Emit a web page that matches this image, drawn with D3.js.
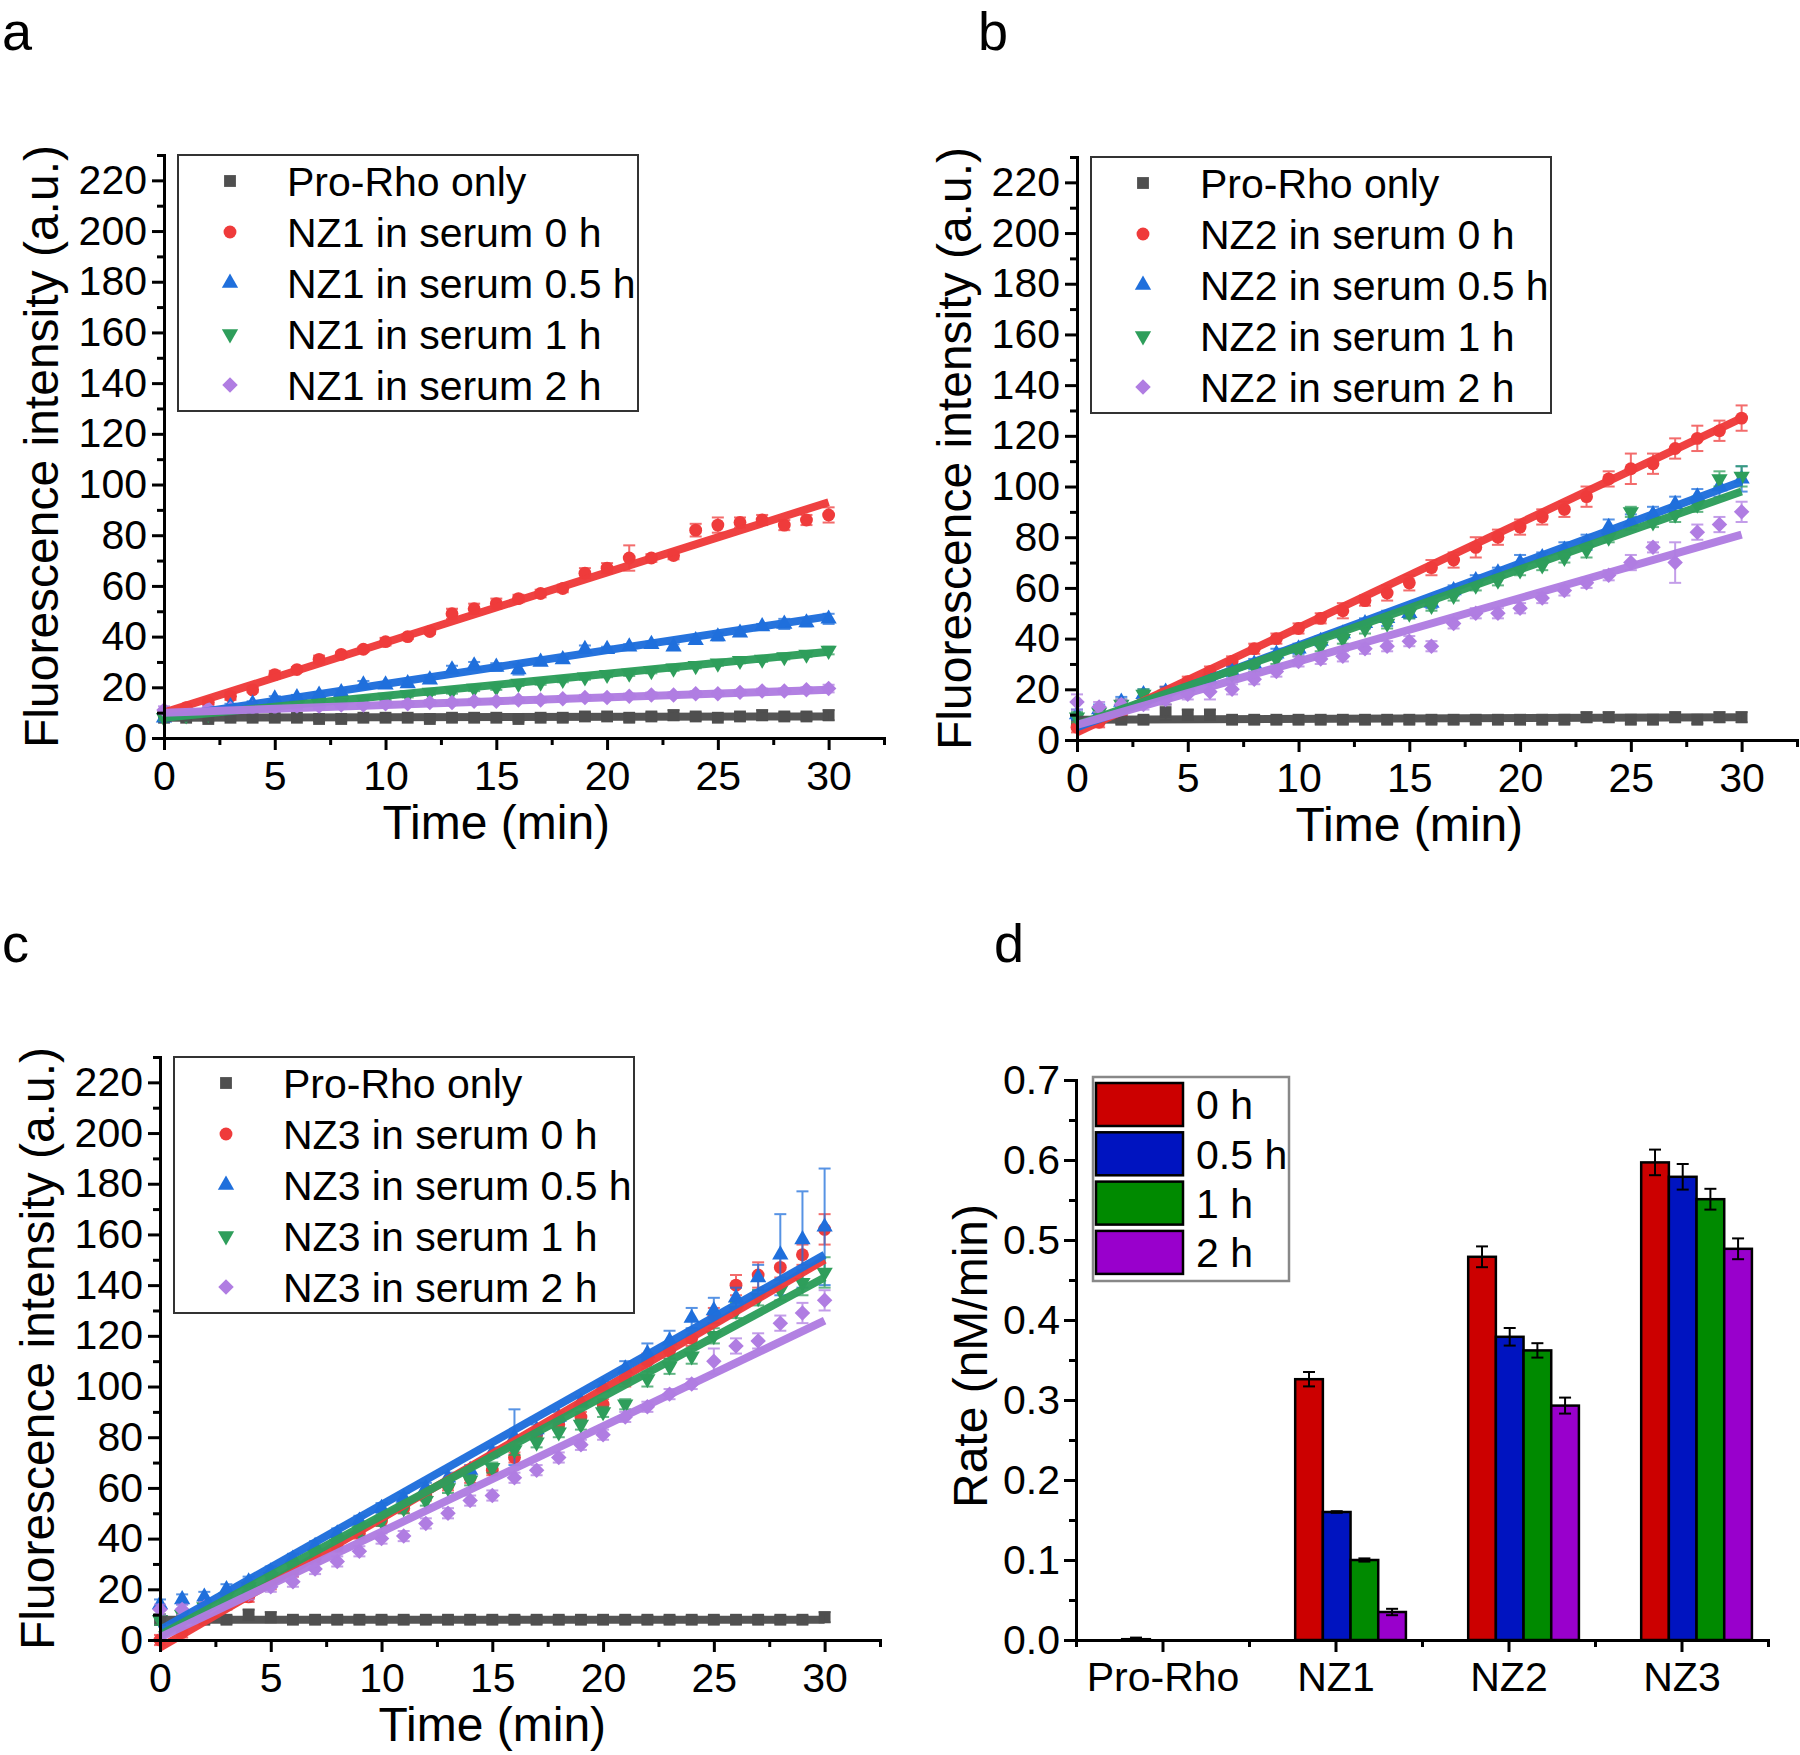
<!DOCTYPE html>
<html><head><meta charset="utf-8">
<script src="https://cdn.jsdelivr.net/npm/d3@7"></script>
<style>
body{margin:0;background:#fff}
svg{display:block}
text{font-family:"Liberation Sans",Arial,Helvetica,sans-serif;fill:#000}
</style>
</head><body>
<svg id="chart" width="1800" height="1755"></svg>
<script>
// ---------------- DATA ----------------
const time = [0,1,2,3,4,5,6,7,8,9,10,11,12,13,14,15,16,17,18,19,20,21,22,23,24,25,26,27,28,29,30];
const xTicks = [0,5,10,15,20,25,30];
const xMinorTicks = [2.5,7.5,12.5,17.5,22.5,27.5,32.5];
const yTicks = [0,20,40,60,80,100,120,140,160,180,200,220];
const yMinorTicks = [10,30,50,70,90,110,130,150,170,190,210,230];

const legendA = ["Pro-Rho only","NZ1 in serum 0 h","NZ1 in serum 0.5 h","NZ1 in serum 1 h","NZ1 in serum 2 h"];
const legendB = ["Pro-Rho only","NZ2 in serum 0 h","NZ2 in serum 0.5 h","NZ2 in serum 1 h","NZ2 in serum 2 h"];
const legendC = ["Pro-Rho only","NZ3 in serum 0 h","NZ3 in serum 0.5 h","NZ3 in serum 1 h","NZ3 in serum 2 h"];

// Panel a (NZ1)
const grayA   = [8,8,7.5,8,8,8,8,7.5,7.5,8,8,8,7.5,8,8,8,7.5,8,8,8.5,8.5,8,8.5,9,8.5,8,8.5,9,8.5,8.5,9];
const redA    = [10,12,14,16.5,19,25,27,31,33,35,38,40,42,49,51,53,55,57,59,65,67,71,71,72,82,84,85,86,84,86,88];
const blueA   = [8,9.5,11,12.5,13.5,15.5,16,17,18,21,21,21.5,23,27,28.5,28,27,30,31,35,35,36,37,36,38.5,40,41.5,44,45,45.5,47];
const greenA  = [8,9,9.5,10.5,11.5,12,13,13.5,14,15,16,17,18,18.5,19.5,20,21.5,22,23,24,25,25.5,26.5,27.5,28.5,29.5,30.5,31,32,33,34.5];
const purpleA = [11,11,11.5,11.5,12,12,12.5,12.5,13,13,13.5,13.5,14,14,14.5,14.5,15,15,15.5,16,16,16.5,17,17,17.5,17.5,18,18.5,18.5,19,19.5];
const errGrayA   = [1,1,1,1,1,1,1,1,1,1,1,1,1,1,1,1,1,1,1.5,1.5,1,1.5,1.5,2,1.5,1,1.5,2,1.5,1.5,2];
const errRedA    = [1,1,1,1.5,1,1.5,1,1.5,1,1,1.5,1,1,2,2,2,1.5,1.5,1.5,2,2,5,1.5,1.5,2.5,3,2,2,2,2,3];
const errBlueA   = [1,1,1,1,1,1,1,1,1,1.5,1,1,1,1.5,1.5,1.5,2,1,1,1.5,1,1,1,1,1,1.5,1,1,2,1.5,2];
const errGreenA  = [1,1,1,1,1,1,1,1,1,1,1,1,1,1,1,1,1,1,1,1,1,1,1,1,1,1,1,1,1,1,1.5];
const errPurpleA = [1.5,1,1,1,1,1,1,1,1,1,1,1,1,1,1,1,1,1,1,1,1,1,1,1,1,1,1,1,1,1,1.5];
const fitStartA = [8, 10, 8, 8, 10];   // fitted value at t = 0
const fitEndA   = [8.5, 93, 48, 34, 19]; // fitted value at t = 30

// Panel b (NZ2)
const grayB   = [8,9,8,8,11,10,10,8,8,8,8,8,8,8,8,8,8,8,8,8,8,8,8,9,9,8,8,9,8,9,9];
const redB    = [5,7,10,15,19,23,27,31,36,40,44,48,51,55,58,62,68,71,76,80,84,88,91,96,103,107,109,115,119,122,127];
const blueB   = [10,12,15,18,19,21,24,27,30,34,36,39,42,46,48,50,54,59,63,66,70,72,75,78,84,86,89,93,96,100,103];
const greenB  = [9,11,14,18,18,21,24,26,29,32,35,37,40,44,46,50,53,57,61,63,67,69,72,75,80,90,86,89,93,103,104];
const purpleB = [15,13,14,14,16,18,19,20,24,27,31,32,33,36,37,39,37,46,50,50,52,56,59,62,65,70,76,70,82,85,90];
const errGrayB   = [2,2,1.5,1.5,3,2,2,1.5,1.5,1.5,1.5,1.5,1.5,1.5,1.5,1.5,1.5,1.5,1.5,1.5,1.5,1.5,1.5,2,2,1.5,1.5,2,1.5,2,2];
const errRedB    = [2,2,2,2,2,2,2,2,2,2,2,2,3,2,3,3,3,3,4,3,3,3,3,4,3,6,4,4,5,4,5];
const errBlueB   = [2,2,2,2,2,2,2,2,2,2,2,2,2,2,3,2,2,2,2,2,3,2,3,3,3,3,3,3,3,4,5];
const errGreenB  = [2,2,2,2,2,2,2,2,2,2,2,2,2,2,2,2,2,2,2,2,2,2,2,3,2,2,2,3,3,3,4];
const errPurpleB = [3,2,2,2,2,2,3,2,2,2,2,2,2,2,2,2,2,2,2,2,2,2,2,2,2,3,2,8,3,3,4];
const fitStartB = [8, 3, 5, 6, 6];
const fitEndB   = [9, 127, 102, 98, 81];

// Panel c (NZ3)
const grayC   = [8,10,8,8,10,9,8,8,8,8,8,8,8,8,8,8,8,8,8,8,8,8,8,8,8,8,8,8,8,8,9];
const redC    = [0,3,9,14,17,22,27,32,37,42,47,52,57,61,64,67,72,81,85,88,93,103,110,114,119,128,140,144,147,152,162];
const blueC   = [14,16,17,20,23,27,32,37,42,47,52,56,60,64,67,74,80,83,88,94,100,107,113,118,127,130,135,143,152,158,163];
const greenC  = [8,10,13,17,21,25,29,34,38,43,47,52,55,60,63,68,75,78,82,85,90,93,103,108,112,120,130,135,138,141,145];
const purpleC = [12,12,13,15,18,21,23,28,31,35,40,41,46,50,55,57,64,67,72,77,81,88,92,97,101,110,116,118,125,129,134];
const errGrayC   = [2,2,1.5,1.5,2,2,1.5,1.5,1.5,1.5,1.5,1.5,1.5,1.5,1.5,1.5,1.5,1.5,1.5,1.5,1.5,1.5,1.5,1.5,1.5,1.5,1.5,1.5,1.5,1.5,2];
const errRedC    = [2,2,2,2,2,2,2,2,2,2,2,2,2,2,2,2,2,2,2,2,2,3,3,3,3,3,4,5,4,4,6];
const errBlueC   = [2,2,2,2,2,2,2,2,2,2,2,2,2,2,2,2,11,2,2,2,2,3,4,4,4,5,4,5,16,19,23];
const errGreenC  = [2,2,2,2,2,2,2,2,2,2,2,2,2,2,2,2,2,2,2,2,2,2,3,3,3,3,3,3,4,5,6];
const errPurpleC = [2,2,2,2,2,2,2,2,2,2,2,2,2,2,2,2,2,2,2,2,2,2,2,2,2,5,3,3,3,4,4];
const fitStartC = [8, -3, 4, 2, 1];
const fitEndC   = [8, 150, 152, 143, 126];

// Panel d (rates)
const barCategories = ["Pro-Rho","NZ1","NZ2","NZ3"];
const barSeries = ["0 h","0.5 h","1 h","2 h"];
const rate0h  = [0.001, 0.326, 0.479, 0.597];
const rate05h = [null, 0.160, 0.379, 0.579];
const rate1h  = [null, 0.100, 0.362, 0.551];
const rate2h  = [null, 0.035, 0.293, 0.489];
const err0h  = [0.002, 0.009, 0.013, 0.016];
const err05h = [null, 0.001, 0.011, 0.016];
const err1h  = [null, 0.002, 0.009, 0.013];
const err2h  = [null, 0.004, 0.010, 0.013];
const rateTicks = [0,0.1,0.2,0.3,0.4,0.5,0.6,0.7];
const rateMinorTicks = [0.05,0.15,0.25,0.35,0.45,0.55,0.65];

// ---------------- STYLE ----------------
const scatterColors = ["#4f4f4f","#ef3b3b","#1f6fdc","#2e9e5b","#b07de2"];
const barColors = ["#cc0000","#0014c0","#008a00","#9900cc"];
const markerTypes = ["square","circle","up","down","diamond"];

const svg = d3.select("#chart");

function markerPath(type) {
  if (type === "square") return d3.symbol(d3.symbolSquare, 140)();
  if (type === "circle") return d3.symbol(d3.symbolCircle, 130)();
  if (type === "up" || type === "down") return d3.symbol(d3.symbolTriangle, 115)();
  return d3.symbol(d3.symbolSquare, 120)();
}
function markerTransform(type, px, py) {
  if (type === "down") return `translate(${px},${py}) rotate(180)`;
  if (type === "diamond") return `translate(${px},${py}) rotate(45)`;
  return `translate(${px},${py})`;
}

function styleAxis(sel) {
  sel.select(".domain").attr("stroke","#000").attr("stroke-width",3).attr("stroke-linecap","square");
  sel.selectAll(".tick line").attr("stroke","#000").attr("stroke-width",3);
  sel.selectAll(".tick text").attr("font-size",41).attr("font-family",'"Liberation Sans",Arial,sans-serif').attr("fill","#000");
}

function kineticPanel(p) {
  const g = svg.append("g");
  const x = d3.scaleLinear().domain([0, 32.5]).range([p.left, p.left + 720]);
  const y = d3.scaleLinear().domain([0, 230]).range([p.bottom, p.bottom - 583]);

  // error bars + markers
  p.series.forEach((vals, s) => {
    const col = scatterColors[s];
    const eg = g.append("g").attr("stroke", col).attr("stroke-width", 2).attr("opacity", 0.75);
    vals.forEach((v, i) => {
      const e = p.errs[s][i];
      const px = x(time[i]);
      eg.append("line").attr("x1",px).attr("x2",px).attr("y1",y(v-e)).attr("y2",y(v+e));
      eg.append("line").attr("x1",px-6).attr("x2",px+6).attr("y1",y(v+e)).attr("y2",y(v+e));
      eg.append("line").attr("x1",px-6).attr("x2",px+6).attr("y1",y(v-e)).attr("y2",y(v-e));
    });
    g.append("g").selectAll("path").data(vals).join("path")
      .attr("d", markerPath(markerTypes[s]))
      .attr("transform", (v, i) => markerTransform(markerTypes[s], x(time[i]), y(v)))
      .attr("fill", col);
  });
  // linear fit lines
  p.fitStart.forEach((v0, s) => {
    g.append("line")
      .attr("x1", x(time[0])).attr("y1", y(v0))
      .attr("x2", x(time[time.length-1])).attr("y2", y(p.fitEnd[s]))
      .attr("stroke", scatterColors[s]).attr("stroke-width", 8).attr("opacity", 0.97);
  });

  // axes
  const gx = g.append("g").attr("transform", `translate(0,${p.bottom})`)
    .call(d3.axisBottom(x).tickValues(xTicks).tickSize(12).tickPadding(11).tickSizeOuter(0));
  styleAxis(gx);
  const gxm = g.append("g").attr("transform", `translate(0,${p.bottom})`)
    .call(d3.axisBottom(x).tickValues(xMinorTicks).tickSize(7).tickFormat("").tickSizeOuter(0));
  styleAxis(gxm);
  const gy = g.append("g").attr("transform", `translate(${p.left},0)`)
    .call(d3.axisLeft(y).tickValues(yTicks).tickSize(12).tickPadding(5).tickSizeOuter(0));
  styleAxis(gy);
  const gym = g.append("g").attr("transform", `translate(${p.left},0)`)
    .call(d3.axisLeft(y).tickValues(yMinorTicks).tickSize(7).tickFormat("").tickSizeOuter(0));
  styleAxis(gym);

  // titles
  g.append("text").attr("x", x(15)).attr("y", p.bottom + 84).attr("dy","0.35em")
    .attr("text-anchor","middle").attr("font-size",48).text("Time (min)");
  g.append("text").attr("transform", `translate(${p.left - 123},${y(115)}) rotate(-90)`)
    .attr("dy","0.35em").attr("text-anchor","middle").attr("font-size",48)
    .text("Fluorescence intensity (a.u.)");

  // legend
  const lx = p.left + 14, ly = p.bottom - 583;
  const lg = g.append("g");
  lg.append("rect").attr("x", lx).attr("y", ly).attr("width", 460).attr("height", 256)
    .attr("fill","#fff").attr("stroke","#333").attr("stroke-width",2);
  p.legend.forEach((name, s) => {
    const cy = ly + 26 + s * 51;
    lg.append("path").attr("d", markerPath(markerTypes[s]))
      .attr("transform", markerTransform(markerTypes[s], lx + 52, cy)).attr("fill", scatterColors[s]);
    lg.append("text").attr("x", lx + 109).attr("y", cy).attr("dy","0.36em").attr("font-size",41).text(name);
  });

  // panel label
  svg.append("text").attr("x", p.labelX).attr("y", p.labelY).attr("font-size",54).text(p.label);
}

kineticPanel({label:"a", labelX:2, labelY:50, left:164, bottom:738,
  series:[grayA, redA, blueA, greenA, purpleA],
  errs:[errGrayA, errRedA, errBlueA, errGreenA, errPurpleA],
  fitStart: fitStartA, fitEnd: fitEndA, legend: legendA});
kineticPanel({label:"b", labelX:978, labelY:50, left:1077, bottom:740,
  series:[grayB, redB, blueB, greenB, purpleB],
  errs:[errGrayB, errRedB, errBlueB, errGreenB, errPurpleB],
  fitStart: fitStartB, fitEnd: fitEndB, legend: legendB});
kineticPanel({label:"c", labelX:2, labelY:962, left:160, bottom:1640,
  series:[grayC, redC, blueC, greenC, purpleC],
  errs:[errGrayC, errRedC, errBlueC, errGreenC, errPurpleC],
  fitStart: fitStartC, fitEnd: fitEndC, legend: legendC});

// ---------------- PANEL D ----------------
(function() {
  const left = 1076, bottom = 1640;
  const g = svg.append("g");
  const x = d3.scaleLinear().domain([0, 4]).range([left, left + 692]);
  const y = d3.scaleLinear().domain([0, 0.7]).range([bottom, bottom - 560]);
  const rates = [rate0h, rate05h, rate1h, rate2h];
  const errs = [err0h, err05h, err1h, err2h];
  const bw = x(0.16) - x(0);
  const shift = x(0.087) - x(0);

  rates.forEach((vals, s) => {
    vals.forEach((v, i) => {
      if (v === null) return;
      const cx = x(i + 0.5) + shift + (s - 1.5) * bw;
      g.append("rect").attr("x", cx - bw/2).attr("y", y(v)).attr("width", bw).attr("height", y(0) - y(v))
        .attr("fill", barColors[s]).attr("stroke","#000").attr("stroke-width",2.5);
      const e = errs[s][i];
      const eg = g.append("g").attr("stroke","#000").attr("stroke-width",2);
      eg.append("line").attr("x1",cx).attr("x2",cx).attr("y1",y(v-e)).attr("y2",y(v+e));
      eg.append("line").attr("x1",cx-6).attr("x2",cx+6).attr("y1",y(v+e)).attr("y2",y(v+e));
      eg.append("line").attr("x1",cx-6).attr("x2",cx+6).attr("y1",y(v-e)).attr("y2",y(v-e));
    });
  });

  const catPos = barCategories.map((c, i) => i + 0.5);
  const gx = g.append("g").attr("transform", `translate(0,${bottom})`)
    .call(d3.axisBottom(x).tickValues(catPos).tickFormat((d, i) => barCategories[i])
      .tickSize(12).tickPadding(10).tickSizeOuter(0));
  styleAxis(gx);
  const gxm = g.append("g").attr("transform", `translate(0,${bottom})`)
    .call(d3.axisBottom(x).tickValues([0,1,2,3,4]).tickSize(7).tickFormat("").tickSizeOuter(0));
  styleAxis(gxm);
  const gy = g.append("g").attr("transform", `translate(${left},0)`)
    .call(d3.axisLeft(y).tickValues(rateTicks).tickFormat(d3.format(".1f")).tickSize(12).tickPadding(4).tickSizeOuter(0));
  styleAxis(gy);
  const gym = g.append("g").attr("transform", `translate(${left},0)`)
    .call(d3.axisLeft(y).tickValues(rateMinorTicks).tickSize(7).tickFormat("").tickSizeOuter(0));
  styleAxis(gym);

  g.append("text").attr("transform", `translate(${left - 106},${y(0.355)}) rotate(-90)`)
    .attr("dy","0.35em").attr("text-anchor","middle").attr("font-size",48).text("Rate (nM/min)");

  // legend
  const lx = left + 17, ly = bottom - 563;
  g.append("rect").attr("x", lx).attr("y", ly).attr("width", 196).attr("height", 204)
    .attr("fill","#fff").attr("stroke","#888").attr("stroke-width",2.5);
  barSeries.forEach((name, s) => {
    const ry = ly + 6 + s * 49.3;
    g.append("rect").attr("x", lx + 3).attr("y", ry).attr("width", 87).attr("height", 43)
      .attr("fill", barColors[s]).attr("stroke","#000").attr("stroke-width",2.5);
    g.append("text").attr("x", lx + 103).attr("y", ry + 21.5).attr("dy","0.36em").attr("font-size",41).text(name);
  });

  svg.append("text").attr("x", 994).attr("y", 962).attr("font-size",54).text("d");
})();
</script>
</body></html>
